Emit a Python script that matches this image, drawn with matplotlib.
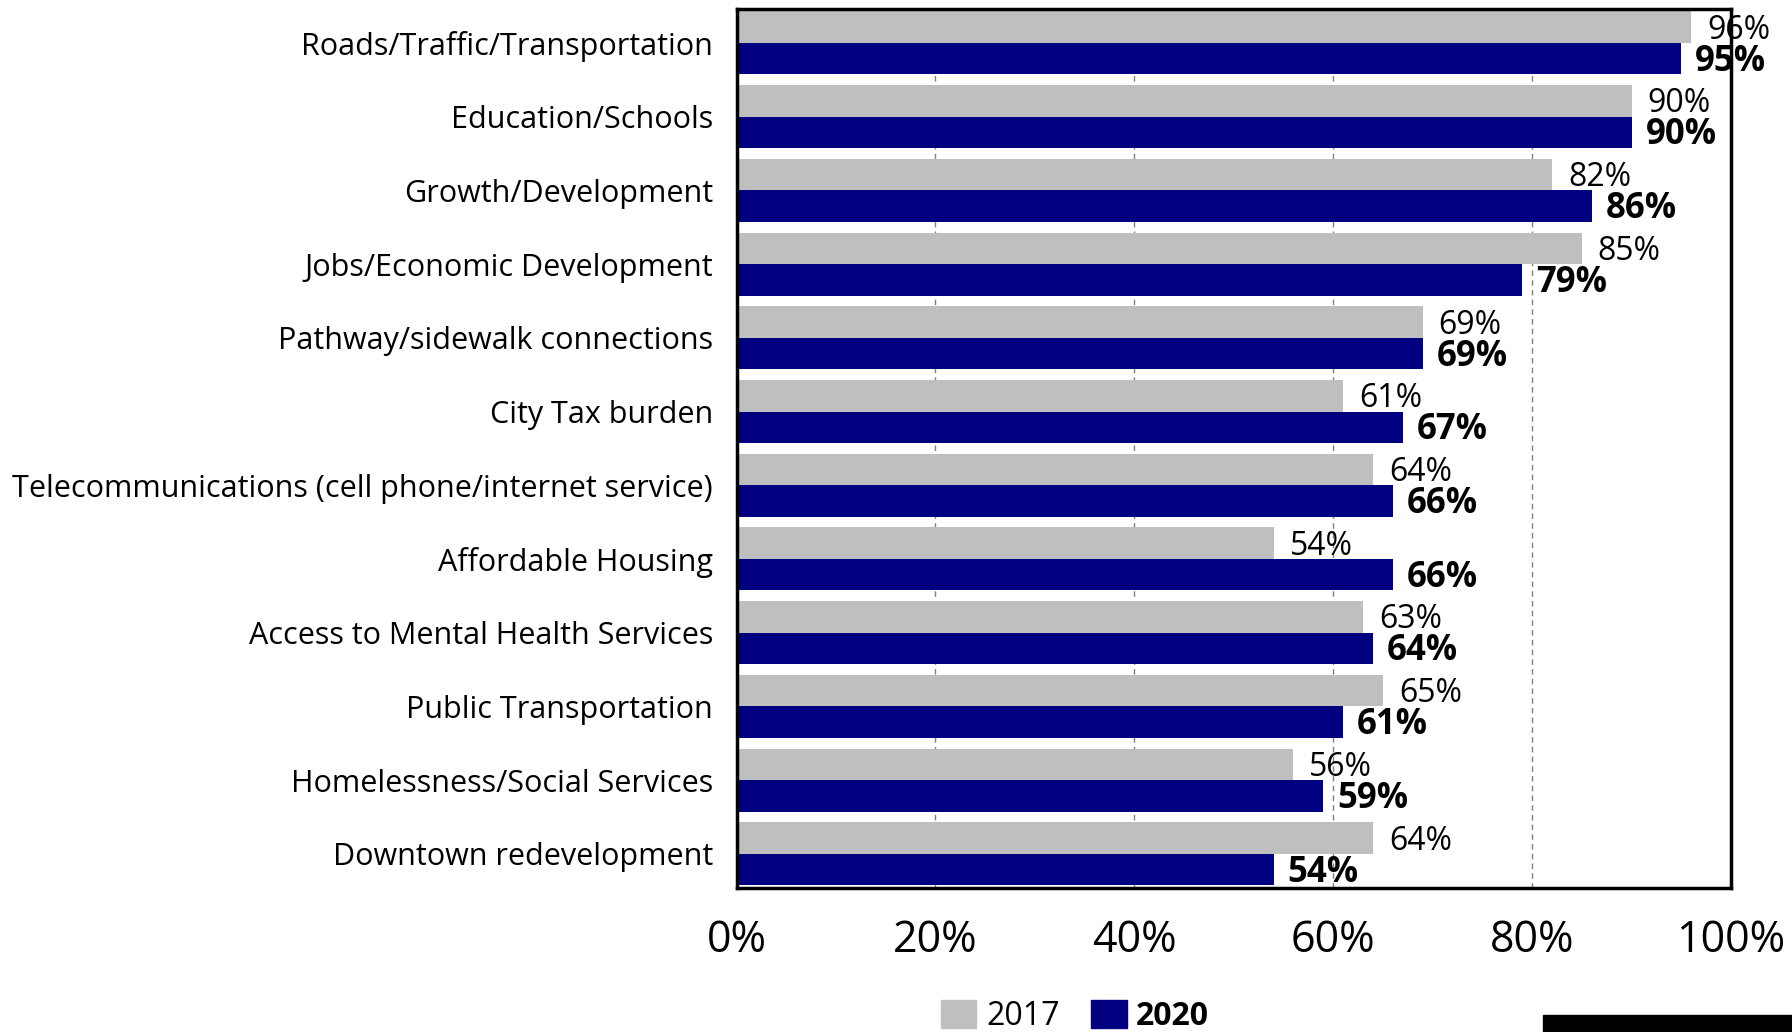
import numpy as np
import matplotlib
matplotlib.use("Agg")
import matplotlib.pyplot as plt
from matplotlib.patches import Patch, Rectangle

plt.rcParams['font.family'] = ['Open Sans', 'DejaVu Sans']

# Données
categories = [
    "Roads/Traffic/Transportation",
    "Education/Schools",
    "Growth/Development",
    "Jobs/Economic Development",
    "Pathway/sidewalk connections",
    "City Tax burden",
    "Telecommunications (cell phone/internet service)",
    "Affordable Housing",
    "Access to Mental Health Services",
    "Public Transportation",
    "Homelessness/Social Services",
    "Downtown redevelopment",
]
vals_2017 = [96, 90, 82, 85, 69, 61, 64, 54, 63, 65, 56, 64]
vals_2020 = [95, 90, 86, 79, 69, 67, 66, 66, 64, 61, 59, 54]
x_ticks = [0, 20, 40, 60, 80, 100]

gray = "#bfbfbf"
navy = "#000080"
h = 0.427

fig = plt.figure(figsize=(17.92, 10.32), dpi=100)
ax = fig.add_axes([0.411, 0.140, 0.555, 0.851])

y = np.arange(len(categories))
ax.barh(y - h / 2, vals_2017, height=h, color=gray, zorder=2)
ax.barh(y + h / 2, vals_2020, height=h, color=navy, zorder=2)

for yi, v in zip(y, vals_2017):
    ax.text(v + 1.6, yi - h / 2 + 0.04, f"{v}%", va="center", ha="left",
            fontsize=23, color="black", zorder=3)
for yi, v in zip(y, vals_2020):
    ax.text(v + 1.4, yi + h / 2 + 0.04, f"{v}%", va="center", ha="left",
            fontsize=25, fontweight="bold", color="black", zorder=3)

ax.set_xlim(0, 100)
ax.set_ylim(len(categories) - 1 + h + 0.03, -h - 0.03)
ax.set_yticks(y)
ax.set_yticklabels(categories, fontsize=22)
ax.set_xticks(x_ticks)
ax.set_xticklabels([f"{t}%" for t in x_ticks], fontsize=31)
ax.tick_params(axis="y", length=0, pad=17)
ax.tick_params(axis="x", length=0, pad=22)
ax.xaxis.grid(True, linestyle=(0, (4, 3)), color="#808080", linewidth=1, zorder=0)
ax.set_axisbelow(True)
for s in ax.spines.values():
    s.set_linewidth(2.5)

handles = [Patch(color=gray, label="2017"), Patch(color=navy, label="2020")]
leg = fig.legend(handles=handles, loc="center", bbox_to_anchor=(0.60, 0.015),
                 ncol=2, frameon=False, fontsize=23, handlelength=1.1,
                 handleheight=1.0, handletextpad=0.3, columnspacing=1.0)
leg.get_texts()[1].set_fontweight("bold")

# barre noire en bas à droite
fig.patches.append(Rectangle((0.861, 0.0), 0.139, 0.016, transform=fig.transFigure,
                             color="black"))

fig.savefig("out.png", dpi=100)
